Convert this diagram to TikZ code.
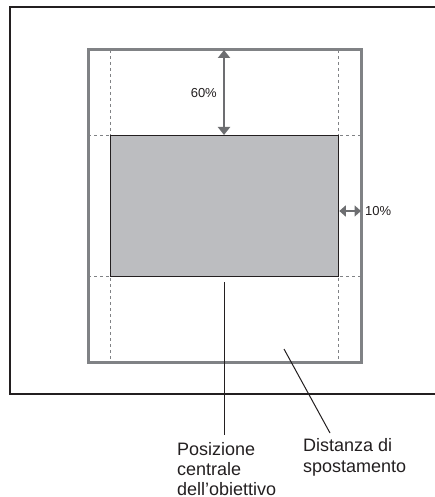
\documentclass[tikz,border=0pt]{standalone}
\usepackage{fontspec}
\setmainfont{Liberation Sans}
\usetikzlibrary{arrows.meta}
\definecolor{boxfill}{HTML}{BCBDC0}
\definecolor{frame}{HTML}{808285}
\definecolor{arrowgray}{HTML}{6D6E71}
\definecolor{ink}{HTML}{231F20}
\tikzset{
  outerframe/.style={draw=ink, line width=2.4pt},
  shiftframe/.style={draw=frame, line width=3pt},
  guide/.style={draw=frame, line width=0.9pt, dash pattern=on 3pt off 3pt},
  imagebox/.style={draw=ink, fill=boxfill, line width=1.3pt},
  dimarrow/.style={draw=arrowgray, line width=2.2pt, {Triangle[width=12pt,length=8pt]}-{Triangle[width=12pt,length=8pt]}},
  smallarrow/.style={draw=arrowgray, line width=2.2pt, {Triangle[width=11pt,length=6.5pt]}-{Triangle[width=11pt,length=6.5pt]}},
  leader/.style={draw=ink, line width=1pt},
  pct/.style={font=\fontsize{13}{15}\selectfont, text=ink, inner sep=0pt},
  lbl/.style={font=\fontsize{18}{20.5}\selectfont, text=ink, inner sep=0pt, anchor=base west},
}
\begin{document}
\begin{tikzpicture}[x=1pt, y=-1pt]
\useasboundingbox (0,0) rectangle (435,497);
\clip (0,0) rectangle (435,497);
% outer frame
\draw[outerframe] (10,7) rectangle (450,394);
% shift range frame
\draw[shiftframe] (88,50) rectangle (361,362);
% guides
\draw[guide] (110,50) -- (110,362);
\draw[guide] (338,50) -- (338,362);
\draw[guide] (88,135) -- (361,135);
\draw[guide] (88,276) -- (361,276);
% image box
\node[imagebox, minimum width=228pt, minimum height=141pt, inner sep=0pt, anchor=north west] (img) at (110,135) {};
% 60% arrow
\coordinate (topedge) at (224,50);
\draw[dimarrow] (topedge) -- (img.north -| topedge);
\node[pct, anchor=east] (p60) at (217,93) {60\%};
% 10% arrow
\coordinate (rightedge) at (361,211);
\draw[smallarrow] (img.east |- rightedge) -- (rightedge);
\node[pct, anchor=west] (p10) at (365,211) {10\%};
% labels
\node[lbl] (pos1) at (177,455.5) {Posizione};
\node[lbl] (pos2) at (177,475.5) {centrale};
\node[lbl] (pos3) at (177,495.5) {dell’obiettivo};
\node[lbl] (dist1) at (303,451.5) {Distanza di};
\node[lbl] (dist2) at (303,472) {spostamento};
% leaders
\coordinate (lensA) at (224,282);
\coordinate (lensB) at (224,435);
\draw[leader] (lensA) -- (lensB);
\coordinate (distA) at (284,349);
\coordinate (distB) at (330,433);
\draw[leader] (distA) -- (distB);
\end{tikzpicture}
\end{document}
